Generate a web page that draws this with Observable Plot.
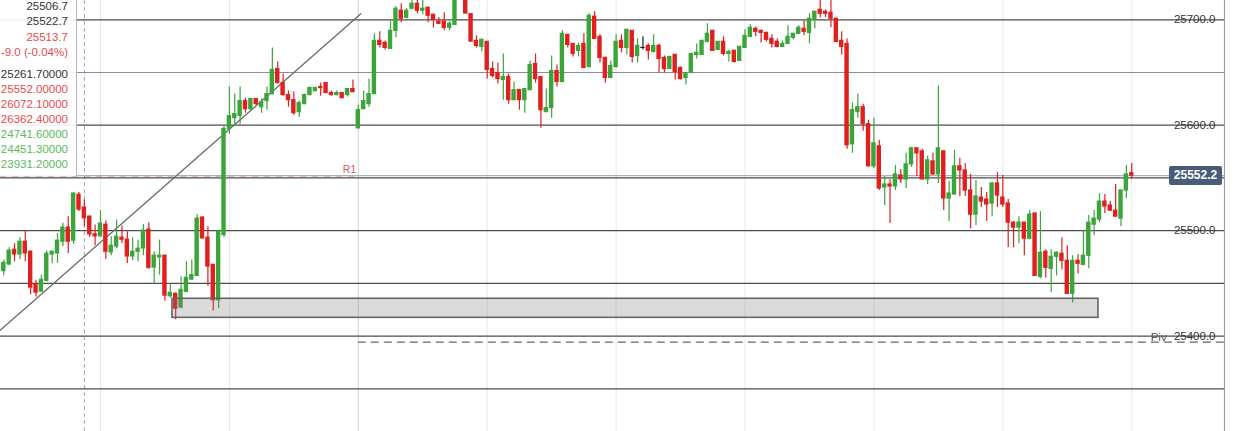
<!DOCTYPE html>
<html><head><meta charset="utf-8">
<script src="https://cdn.jsdelivr.net/npm/d3@7"></script>
<script src="https://cdn.jsdelivr.net/npm/@observablehq/plot@0.6"></script>
<style>
html,body{margin:0;padding:0;background:#fff;}
#wrap{position:relative;width:1234px;height:431px;overflow:hidden;font-family:"Liberation Sans",Arial,sans-serif;}
#panel{position:absolute;left:0;top:0;width:76px;height:176px;background:rgba(255,255,255,0.9);border-right:1px solid #b4b4bc;}
#panel div{position:absolute;right:8px;font-size:11.5px;line-height:14px;white-space:nowrap;}
#price{position:absolute;left:1169px;width:53px;height:19px;background:#4a5b7a;color:#fff;font-weight:bold;font-size:12px;line-height:19px;text-align:center;border-radius:2px;}
</style></head><body><div id="wrap"></div>
<script>
const opens = [25461.6,25467.9,25481.9,25477.4,25489.5,25480.0,25448.3,25442.2,25452.4,25477.4,25478.4,25489.5,25502.9,25490.5,25534.0,25521.9,25513.3,25496.5,25494.6,25505.7,25479.3,25485.0,25493.3,25491.4,25475.5,25480.0,25483.1,25501.0,25465.0,25474.6,25476.2,25437.8,25440.0,25427.0,25441.9,25453.6,25457.1,25512.4,25493.3,25467.6,25434.0,25495.9,25596.2,25606.7,25608.9,25622.9,25615.2,25624.8,25617.1,25622.9,25629.5,25653.3,25640.0,25628.6,25623.8,25612.4,25620.0,25628.6,25632.4,25636.2,25640.0,25630.5,25628.6,25630.5,25628.6,25634.3,25597.1,25615.2,25620.0,25629.5,25680.0,25678.1,25672.4,25689.5,25708.6,25701.9,25710.5,25715.2,25708.6,25711.4,25704.8,25698.1,25698.1,25692.4,25695.2,25724.0,25728.0,25705.4,25680.0,25674.3,25679.1,25653.3,25649.5,25642.9,25645.7,25623.8,25633.3,25623.8,25633.3,25658.1,25645.7,25612.4,25616.2,25651.4,25641.0,25685.7,25677.1,25670.5,25677.1,25655.2,25702.9,25683.8,25663.8,25644.8,25655.2,25680.0,25673.3,25689.5,25665.7,25673.3,25675.2,25669.5,25675.2,25663.8,25653.3,25666.7,25654.3,25644.8,25649.5,25666.7,25666.7,25679.1,25689.5,25671.4,25679.1,25667.6,25670.5,25661.0,25673.3,25683.8,25691.4,25689.5,25687.6,25681.9,25679.1,25674.3,25677.1,25682.9,25686.7,25691.4,25687.6,25700.0,25709.5,25707.6,25706.7,25701.0,25680.0,25677.1,25581.9,25612.4,25617.1,25601.0,25561.0,25580.0,25541.0,25543.8,25541.9,25552.4,25548.6,25562.9,25578.1,25575.2,25548.6,25565.7,25553.3,25575.2,25530.5,25534.3,25561.0,25557.1,25538.1,25515.2,25531.4,25529.5,25525.7,25544.8,25531.4,25525.7,25507.6,25502.9,25507.6,25492.4,25516.2,25456.2,25480.0,25463.8,25475.2,25478.1,25471.4,25440.0,25471.4,25467.6,25476.2,25505.7,25510.5,25527.6,25523.8,25519.0,25511.4,25538.1,25554.5];
const highs = [25472.1,25483.8,25487.6,25493.3,25499.7,25481.0,25453.0,25457.8,25480.7,25480.5,25497.4,25507.0,25513.3,25536.0,25536.2,25529.2,25514.0,25505.4,25519.0,25509.2,25494.3,25510.2,25504.5,25499.0,25493.3,25491.1,25506.0,25507.6,25480.0,25491.1,25477.0,25449.8,25441.0,25456.2,25470.5,25472.1,25515.2,25513.0,25503.8,25468.0,25500.7,25599.0,25636.2,25629.5,25636.2,25625.7,25625.7,25625.5,25624.8,25636.2,25673.3,25660.0,25648.6,25632.4,25631.4,25622.9,25629.5,25636.2,25636.2,25640.0,25640.5,25632.4,25632.4,25631.0,25634.8,25642.9,25619.0,25632.4,25643.8,25686.7,25688.6,25680.0,25700.0,25712.4,25715.2,25710.5,25719.0,25719.0,25719.0,25712.0,25705.2,25701.9,25706.7,25698.1,25730.0,25734.0,25732.0,25706.0,25684.8,25681.5,25679.5,25660.0,25659.0,25667.6,25648.6,25641.0,25634.0,25634.8,25661.0,25667.6,25646.2,25634.3,25665.7,25657.1,25689.5,25686.2,25677.6,25678.1,25686.7,25705.7,25707.6,25685.7,25664.8,25661.0,25685.7,25685.7,25691.0,25690.0,25681.9,25683.8,25677.1,25685.7,25677.1,25665.7,25665.2,25667.2,25655.2,25650.0,25668.0,25677.1,25680.5,25696.2,25690.0,25679.5,25683.8,25671.4,25671.4,25674.8,25690.5,25695.2,25693.3,25690.0,25688.0,25685.7,25681.9,25680.0,25694.3,25687.0,25694.3,25699.1,25705.7,25708.0,25719.0,25709.5,25720.0,25701.5,25688.6,25681.9,25621.0,25629.5,25620.0,25604.8,25606.7,25585.7,25551.4,25548.6,25561.9,25558.1,25573.3,25579.0,25578.5,25577.1,25570.5,25573.3,25637.1,25575.7,25546.7,25576.2,25568.6,25563.8,25553.3,25547.6,25541.0,25536.2,25545.2,25555.2,25552.4,25529.5,25508.6,25513.3,25508.0,25519.0,25516.7,25518.1,25481.9,25481.9,25480.0,25493.3,25485.7,25476.2,25477.1,25500.0,25514.3,25519.0,25535.2,25534.3,25527.6,25543.8,25538.6,25561.9,25563.8];
const lows = [25456.9,25466.7,25470.5,25472.7,25470.5,25439.3,25437.1,25441.5,25451.4,25468.6,25468.9,25484.8,25478.4,25487.0,25518.1,25503.8,25493.6,25485.7,25494.0,25472.7,25476.2,25483.1,25487.9,25468.9,25471.4,25470.5,25476.2,25463.5,25449.2,25457.8,25433.0,25436.2,25415.5,25426.0,25441.2,25453.0,25456.2,25492.0,25447.3,25423.8,25426.0,25493.3,25591.4,25599.0,25601.0,25611.4,25614.3,25619.0,25611.4,25614.3,25628.6,25639.0,25627.6,25617.1,25609.5,25607.6,25619.5,25628.0,25631.4,25627.6,25630.0,25627.6,25628.0,25625.2,25626.7,25631.0,25596.2,25614.8,25617.1,25629.0,25673.3,25671.4,25672.0,25682.9,25697.1,25701.5,25710.0,25705.7,25704.8,25697.1,25692.4,25695.2,25689.5,25689.5,25694.5,25720.0,25705.5,25679.0,25673.3,25669.5,25643.8,25644.8,25639.0,25623.8,25620.0,25623.3,25614.3,25611.4,25632.8,25640.0,25597.1,25612.0,25606.7,25636.2,25640.5,25673.3,25664.8,25664.8,25654.0,25654.3,25681.5,25659.0,25640.0,25644.3,25654.3,25668.6,25666.7,25659.0,25659.0,25671.4,25661.9,25668.6,25649.5,25649.5,25653.0,25642.9,25642.9,25638.1,25649.0,25662.9,25666.2,25678.1,25670.0,25671.0,25665.7,25660.0,25659.0,25660.5,25672.8,25682.9,25683.8,25678.1,25679.1,25673.3,25673.3,25674.0,25676.8,25681.0,25686.2,25684.8,25677.1,25691.4,25701.9,25701.9,25692.4,25678.5,25666.7,25577.1,25573.3,25606.7,25594.3,25560.5,25559.0,25538.1,25523.8,25506.7,25538.1,25544.8,25540.0,25560.0,25551.4,25548.0,25543.8,25552.4,25544.8,25519.0,25508.6,25534.0,25532.4,25532.4,25501.9,25504.8,25521.9,25508.6,25513.3,25521.9,25521.9,25483.8,25483.8,25487.6,25476.2,25491.4,25456.7,25454.3,25455.2,25441.0,25457.1,25462.9,25439.5,25431.4,25459.0,25466.7,25463.8,25495.2,25507.6,25516.2,25518.5,25512.8,25503.8,25530.5,25549.0];
const closes = [25469.5,25481.0,25477.4,25489.5,25478.4,25446.0,25441.2,25453.3,25478.1,25480.0,25490.5,25502.9,25489.5,25535.2,25520.0,25511.7,25496.5,25494.6,25506.7,25480.0,25485.7,25494.3,25491.4,25475.5,25480.0,25482.9,25500.0,25464.8,25476.2,25476.2,25438.4,25441.0,25426.0,25443.8,25455.2,25457.8,25511.4,25492.7,25466.0,25434.0,25499.0,25596.5,25608.6,25610.5,25622.9,25615.2,25624.8,25620.0,25621.9,25629.5,25652.4,25640.0,25628.6,25623.8,25611.4,25621.0,25628.6,25635.2,25635.2,25635.2,25630.5,25628.6,25630.5,25625.7,25634.3,25631.4,25614.3,25622.9,25629.5,25680.0,25676.2,25673.3,25689.5,25710.5,25701.0,25708.6,25715.2,25708.6,25710.5,25703.8,25700.0,25696.2,25692.4,25696.2,25724.0,25730.0,25706.0,25679.3,25675.2,25681.0,25652.4,25646.7,25643.8,25645.7,25623.8,25633.3,25623.8,25634.3,25657.1,25643.8,25614.3,25616.2,25651.4,25641.0,25686.7,25676.2,25667.6,25675.2,25654.3,25703.8,25681.9,25663.8,25644.8,25656.2,25679.1,25673.3,25690.5,25664.8,25675.2,25673.3,25670.5,25675.2,25662.9,25653.3,25664.8,25650.5,25643.8,25649.5,25667.6,25668.6,25680.0,25686.7,25670.5,25679.1,25667.6,25669.5,25660.0,25674.3,25684.8,25692.4,25688.6,25687.6,25681.0,25677.1,25674.3,25677.1,25683.8,25686.7,25692.4,25688.6,25701.0,25707.6,25705.7,25705.7,25701.0,25679.1,25674.3,25581.0,25614.3,25617.1,25601.0,25561.0,25582.9,25540.0,25543.8,25541.9,25553.3,25548.6,25562.9,25578.1,25573.3,25548.6,25566.7,25553.3,25578.1,25530.5,25535.2,25561.0,25557.1,25538.1,25515.2,25532.4,25527.6,25524.8,25544.8,25533.3,25524.8,25507.6,25502.9,25507.6,25492.4,25515.2,25457.1,25479.0,25464.8,25475.2,25479.0,25471.4,25440.0,25471.4,25468.6,25476.2,25507.6,25511.4,25527.6,25522.9,25519.0,25513.3,25538.1,25553.3,25552.2];

const gridLevels = [25350, 25400, 25450, 25500, 25550, 25600, 25650, 25700];
const axisTicks = [25400, 25500, 25600, 25700];
const sessionIdx = [18, 42, 66, 90, 114, 138, 162, 186, 210];
const crosshairIdx = 15;
const r1Level = 25552.0;
const pivLevel = 25394.2;
const levelSplitIdx = 66;
const lastPrice = 25552.2;
const trendStart = {i: -0.614, p: 25405.7};
const trendEnd = {i: 66.47, p: 25705.7};
const zone = {start: 31.4, end: 203.8, low: 25417.3, high: 25435.4};
const panelTexts = ["25506.7","25522.7","25513.7","-9.0 (-0.04%)","25261.70000","25552.00000","26072.10000","26362.40000","24741.60000","24451.30000","23931.20000"];
const panelKinds = ["n","n","r","r","n","r","r","r","g","g","g"];

const xMin = -0.614, xMax = 227.27, yMin = 25309.5, yMax = 25718.3;
const GREEN = "#3ba53b", RED = "#e01f1f";

const candles = opens.map((o, i) => ({i, o, h: highs[i], l: lows[i], c: closes[i]}));
const col = d => d.c > d.o ? GREEN : d.c < d.o ? RED : "#222222";

const chart = Plot.plot({
  width: 1234, height: 431,
  marginLeft: 0, marginRight: 10, marginTop: 0, marginBottom: 0,
  style: {fontFamily: "Liberation Sans, Arial, sans-serif", background: "#fff"},
  x: {domain: [xMin, xMax], axis: null},
  y: {domain: [yMin, yMax], axis: null},
  marks: [
    Plot.ruleX(sessionIdx, {stroke: d => d === levelSplitIdx ? "#d2d2d2" : "#e8e8e8", strokeWidth: 1}),
    Plot.ruleX([crosshairIdx], {stroke: "#9d9dc2", strokeDasharray: "4,3"}),
    Plot.ruleY(gridLevels, {stroke: d => d === 25650 ? "#8d8b9b" : "#4d4d4d", strokeWidth: 1.2}),
    Plot.ruleY([r1Level], {x1: xMin, x2: levelSplitIdx, stroke: "#e57373", strokeDasharray: "6,6", strokeWidth: 1.3}),
    Plot.text([r1Level], {x: levelSplitIdx, y: d => d, text: () => "R1", textAnchor: "end", dx: -2, dy: -6, fill: "#e05555", fontSize: 10.5}),
    Plot.ruleY([pivLevel], {x1: levelSplitIdx, x2: xMax, stroke: "#666", strokeDasharray: "8,5", strokeWidth: 1.2}),
    Plot.text([pivLevel], {x: 216.5, y: d => d, text: () => "Piv", textAnchor: "end", dy: -5, fill: "#555", fontSize: 11.5}),
    Plot.ruleY([lastPrice], {stroke: "#a7b1c2", strokeWidth: 1.3}),
    Plot.line([trendStart, trendEnd], {x: "i", y: "p", stroke: "#6a6a6a", strokeWidth: 1.3}),
    Plot.ruleX(candles, {x: "i", y1: "l", y2: "h", stroke: col, strokeWidth: 1.2}),
    Plot.rect(candles, {x1: d => d.i - 0.41, x2: d => d.i + 0.41, y1: "o", y2: "c", fill: col, insetTop: -0.6, insetBottom: -0.6}),
    Plot.rect([zone], {x1: "start", x2: "end", y1: "low", y2: "high", fill: "#7a7a7a", fillOpacity: 0.28, stroke: "#666", strokeWidth: 1.6}),
    Plot.ruleX([xMax], {stroke: "#a0a0ae", strokeWidth: 1.2}),
    Plot.text(axisTicks, {y: d => d, frameAnchor: "right", textAnchor: "end", dx: -9, text: d => d.toFixed(1), fontSize: 11.5, fill: "#333"})
  ]
});

const wrap = document.getElementById("wrap");
wrap.appendChild(chart);

const panel = document.createElement("div");
panel.id = "panel";
const centers = [5.7, 21.2, 36.5, 51.7, 73.5, 89, 104, 119, 134, 149, 164];
const kindColor = {n: "#333", r: "#e84a4a", g: "#5cb85c"};
panelTexts.forEach((t, k) => {
  const d = document.createElement("div");
  d.textContent = t;
  d.style.top = (centers[k] - 7) + "px";
  d.style.color = kindColor[panelKinds[k]];
  panel.appendChild(d);
});
wrap.appendChild(panel);

const price = document.createElement("div");
price.id = "price";
price.textContent = lastPrice.toFixed(1);
price.style.top = (chart.scale("y").apply(lastPrice) - 9.5) + "px";
wrap.appendChild(price);
</script>
</body></html>
